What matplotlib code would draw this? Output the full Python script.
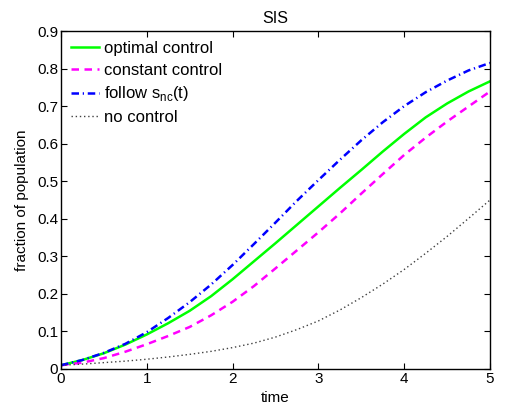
import matplotlib
matplotlib.use("Agg")
import matplotlib.pyplot as plt

plt.rcParams['font.family'] = ['Liberation Sans', 'DejaVu Sans']
plt.rcParams['mathtext.fontset'] = 'custom'
plt.rcParams['mathtext.rm'] = 'Liberation Sans'

# values, t = 0 .. 5 in steps of 0.25
time = [0, 0.25, 0.5, 0.75, 1, 1.25, 1.5, 1.75, 2, 2.25, 2.5, 2.75,
        3, 3.25, 3.5, 3.75, 4, 4.25, 4.5, 4.75, 5]
optimal = [0.010, 0.024, 0.042, 0.065, 0.092, 0.122, 0.155, 0.194, 0.239, 0.287, 0.335,
           0.384, 0.433, 0.482, 0.530, 0.579, 0.626, 0.670, 0.707, 0.739, 0.766]
constant = [0.010, 0.017, 0.029, 0.046, 0.066, 0.088, 0.112, 0.143, 0.179, 0.221, 0.268,
            0.316, 0.364, 0.414, 0.467, 0.519, 0.570, 0.616, 0.659, 0.699, 0.739]
follow = [0.010, 0.024, 0.043, 0.067, 0.098, 0.136, 0.178, 0.225, 0.277, 0.333, 0.390,
          0.448, 0.503, 0.557, 0.609, 0.657, 0.700, 0.737, 0.768, 0.795, 0.815]
nocontrol = [0.010, 0.013, 0.017, 0.021, 0.026, 0.032, 0.039, 0.047, 0.057, 0.069, 0.085,
             0.105, 0.128, 0.157, 0.190, 0.226, 0.265, 0.308, 0.353, 0.401, 0.450]

fig = plt.figure(figsize=(5.05, 4.09), dpi=100)
ax = fig.add_axes([0.1208, 0.0978, 0.8495, 0.8264])

ax.plot(time, optimal, color=(0, 1, 0), lw=1.8, ls='-', label='optimal control')
ax.plot(time, constant, color=(1, 0, 1), lw=1.8, ls=(0, (3, 2.2)), label='constant control')
ax.plot(time, follow, color=(0, 0, 1), lw=1.8, ls=(0, (3, 1.5, 0.5, 1.5)),
        label='follow s$_\\mathregular{nc}$(t)')
ax.plot(time, nocontrol, color=(0.25, 0.25, 0.25), lw=1.0, ls=(0, (1, 2)), label='no control')

ax.set_xlim(0, 5)
ax.set_ylim(0, 0.9)
ax.set_xticks([0, 1, 2, 3, 4, 5])
ax.set_yticks([0, 0.1, 0.2, 0.3, 0.4, 0.5, 0.6, 0.7, 0.8, 0.9])
ax.set_yticklabels(['0', '0.1', '0.2', '0.3', '0.4', '0.5', '0.6', '0.7', '0.8', '0.9'])
ax.tick_params(direction='in', top=True, right=True, length=4, width=0.8,
               labelsize=11, pad=2)
for s in ax.spines.values():
    s.set_linewidth(1.0)

ax.set_title('SIS', fontsize=11.5, pad=6)
ax.set_xlabel('time', fontsize=11, labelpad=4)
ax.set_ylabel('fraction of population', fontsize=11, labelpad=6)

ax.legend(loc='upper left', frameon=False, fontsize=12, handlelength=1.7,
          handletextpad=0.25, labelspacing=0.4, borderaxespad=0.2,
          bbox_to_anchor=(0.0, 1.0))

fig.savefig('out.png', dpi=100)
